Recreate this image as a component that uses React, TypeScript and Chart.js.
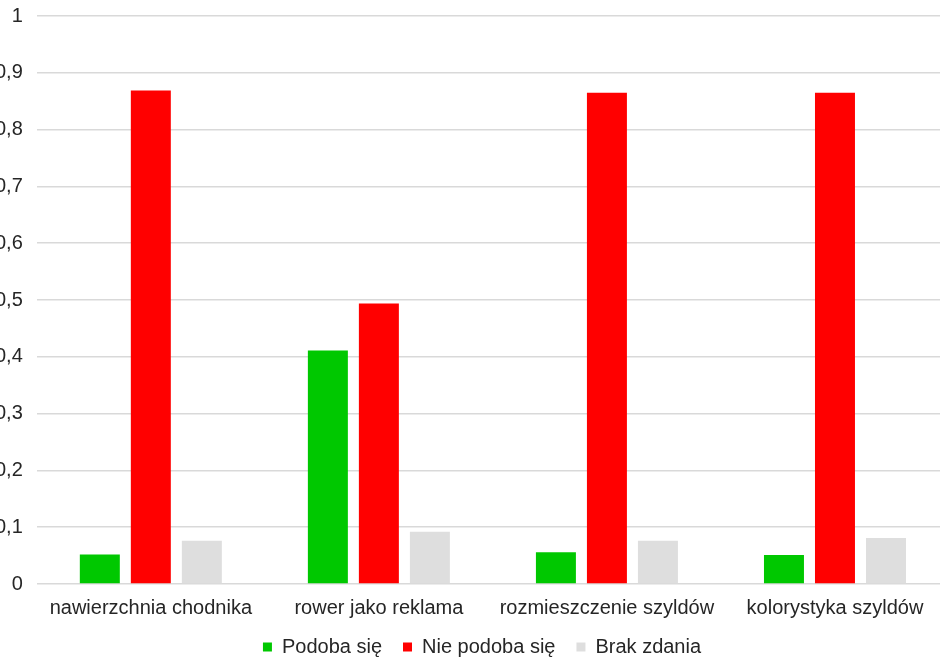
import React, { useEffect, useRef } from "react";
import { Chart, registerables } from "chart.js";

Chart.register(...registerables);

const categories = [
  "nawierzchnia chodnika",
  "rower jako reklama",
  "rozmieszczenie szyldów",
  "kolorystyka szyldów",
];
const seriesNames = ["Podoba się", "Nie podoba się", "Brak zdania"];
const podobaSie = [0.052, 0.411, 0.056, 0.051];
const niePodobaSie = [0.869, 0.494, 0.865, 0.865];
const brakZdania = [0.076, 0.092, 0.076, 0.081];
const yTickLabels = ["0", "0,1", "0,2", "0,3", "0,4", "0,5", "0,6", "0,7", "0,8", "0,9", "1"];

const FONT = "'Liberation Sans', Arial, sans-serif";
const CW = 990;
const CH = 689;

const legendShift = {
  id: "legendShift",
  afterLayout(chart: any) {
    const lg = chart.legend;
    if (lg) {
      lg.left += 17;
      lg.right += 17;
      lg.top -= 8;
      lg.bottom -= 8;
    }
  },
};

export default function App() {
  const ref = useRef<HTMLCanvasElement | null>(null);

  useEffect(() => {
    if (!ref.current) return;
    const chart = new Chart(ref.current, {
      type: "bar",
      data: {
        labels: categories,
        datasets: [
          { label: seriesNames[0], data: podobaSie, backgroundColor: "#00c800" },
          { label: seriesNames[1], data: niePodobaSie, backgroundColor: "#ff0000" },
          { label: seriesNames[2], data: brakZdania, backgroundColor: "#dedede" },
        ],
      },
      plugins: [legendShift],
      options: {
        animation: false,
        responsive: false,
        maintainAspectRatio: false,
        layout: { padding: { top: 3, right: 22, left: 0, bottom: 4 } },
        datasets: {
          bar: { categoryPercentage: 0.671, barPercentage: 0.784 },
        },
        plugins: {
          tooltip: { enabled: false },
          legend: {
            position: "bottom",
            labels: {
              boxWidth: 9,
              boxHeight: 9,
              padding: 21,
              color: "#262626",
              font: { family: FONT, size: 20 },
            },
          },
        },
        scales: {
          x: {
            grid: { display: false, drawTicks: true, tickLength: 8 },
            border: { display: false },
            ticks: {
              color: "#262626",
              padding: 4,
              maxRotation: 0,
              autoSkip: false,
              font: { family: FONT, size: 20 },
            },
          },
          y: {
            min: 0,
            max: 1,
            grid: { color: "#d9d9d9", lineWidth: 1.5, drawTicks: false },
            border: { display: false },
            ticks: {
              stepSize: 0.1,
              padding: 14,
              color: "#262626",
              font: { family: FONT, size: 20 },
              callback: (_v: any, i: number) => yTickLabels[i],
            },
          },
        },
      },
    });
    return () => chart.destroy();
  }, []);

  return (
    <div style={{ position: "fixed", left: -19, top: -10, width: CW, height: CH, background: "#fff" }}>
      <canvas ref={ref} width={CW} height={CH} style={{ width: CW, height: CH }} />
    </div>
  );
}
